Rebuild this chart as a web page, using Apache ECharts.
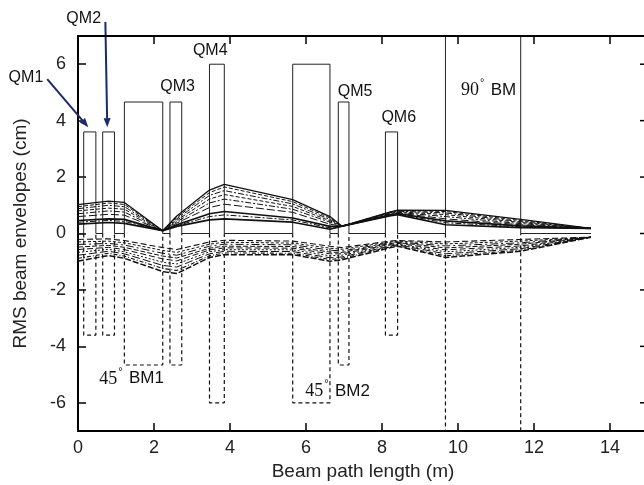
<!DOCTYPE html>
<html>
<head>
<meta charset="utf-8">
<script src="https://cdn.jsdelivr.net/npm/echarts@6/dist/echarts.min.js"></script>
<style>
  html, body { margin: 0; padding: 0; background: #fff; }
  #chart { width: 644px; height: 485px; }
</style>
</head>
<body>
<div id="chart"></div>
<script>
// magnets along the beam line (m), half apertures (cm)
var magnetNames = ["QM1", "QM2", "BM1", "QM3", "QM4", "BM2", "QM5", "QM6", "BM3"];
var magnetStart = [0.15, 0.65, 1.22, 2.42, 3.46, 5.65, 6.85, 8.09, 9.67];
var magnetEnd = [0.47, 0.96, 2.23, 2.73, 3.85, 6.63, 7.13, 8.41, 11.65];
var magnetAperture = [3.6, 3.6, 4.66, 4.66, 6.0, 6.0, 4.66, 3.6, 8.0]; // 90 deg BM runs off the plot
var beamlineEnd = 13.5;

// envelope sample positions (m)
var envX = [0, 0.8, 1.22, 2.23, 2.6, 3.46, 3.85, 5.65, 6.63, 6.95, 8.2, 8.41, 9.67, 11.65, 13.5];

// upper (positive) envelopes, cm
var upper1 = [1.02, 1.15, 1.10, 0.10, 0.62, 1.54, 1.74, 1.20, 0.60, 0.26, 0.76, 0.83, 0.82, 0.50, 0.18];
var upper2 = [0.95, 1.08, 1.03, 0.10, 0.57, 1.45, 1.65, 1.13, 0.55, 0.26, 0.75, 0.81, 0.78, 0.46, 0.18];
var upper3 = [0.88, 1.00, 0.95, 0.10, 0.52, 1.35, 1.52, 1.05, 0.50, 0.26, 0.73, 0.79, 0.73, 0.42, 0.18];
var upper4 = [0.80, 0.90, 0.86, 0.10, 0.47, 1.22, 1.38, 0.96, 0.45, 0.26, 0.71, 0.77, 0.67, 0.39, 0.18];
var upper5 = [0.70, 0.80, 0.76, 0.10, 0.42, 1.08, 1.22, 0.86, 0.40, 0.26, 0.69, 0.75, 0.60, 0.35, 0.18];
var upper6 = [0.60, 0.68, 0.65, 0.10, 0.37, 0.92, 1.04, 0.75, 0.33, 0.26, 0.67, 0.73, 0.52, 0.31, 0.18];
var upper7 = [0.46, 0.52, 0.50, 0.10, 0.31, 0.70, 0.78, 0.55, 0.25, 0.26, 0.65, 0.71, 0.45, 0.27, 0.18];
var upper8 = [0.40, 0.46, 0.43, 0.10, 0.28, 0.60, 0.66, 0.48, 0.20, 0.26, 0.63, 0.69, 0.38, 0.24, 0.18];
var upper9 = [0.33, 0.39, 0.36, 0.10, 0.25, 0.48, 0.52, 0.40, 0.15, 0.26, 0.62, 0.67, 0.31, 0.21, 0.18];

// lower (negative) envelopes, cm
var lower1 = [-0.21, -0.19, -0.25, -0.50, -0.57, -0.30, -0.24, -0.27, -0.45, -0.50, -0.27, -0.25, -0.30, -0.21, -0.13];
var lower2 = [-0.30, -0.27, -0.33, -0.60, -0.67, -0.38, -0.31, -0.34, -0.52, -0.56, -0.30, -0.27, -0.37, -0.27, -0.13];
var lower3 = [-0.39, -0.35, -0.41, -0.70, -0.77, -0.45, -0.38, -0.40, -0.59, -0.62, -0.33, -0.30, -0.44, -0.33, -0.13];
var lower4 = [-0.48, -0.42, -0.49, -0.80, -0.87, -0.52, -0.45, -0.46, -0.66, -0.67, -0.36, -0.32, -0.51, -0.38, -0.13];
var lower5 = [-0.57, -0.49, -0.57, -0.90, -0.97, -0.58, -0.51, -0.52, -0.72, -0.72, -0.39, -0.35, -0.58, -0.44, -0.13];
var lower6 = [-0.67, -0.56, -0.65, -1.02, -1.08, -0.65, -0.57, -0.58, -0.79, -0.77, -0.42, -0.38, -0.65, -0.49, -0.13];
var lower7 = [-0.77, -0.63, -0.72, -1.13, -1.19, -0.72, -0.63, -0.64, -0.86, -0.83, -0.45, -0.40, -0.72, -0.54, -0.13];
var lower8 = [-0.88, -0.70, -0.80, -1.24, -1.31, -0.79, -0.69, -0.70, -0.92, -0.88, -0.48, -0.43, -0.79, -0.59, -0.13];
var lower9 = [-0.98, -0.78, -0.88, -1.35, -1.42, -0.85, -0.75, -0.75, -0.98, -0.93, -0.51, -0.45, -0.85, -0.63, -0.13];

var xTicks = [0, 2, 4, 6, 8, 10, 12, 14];
var yTicks = [-6, -4, -2, 0, 2, 4, 6];
var xRange = [0, 15];
var yRange = [-7, 7];

// label anchors in data units
var labelText = ["QM1", "QM2", "QM3", "QM4", "QM5", "QM6"];
var labelX = [-1.37, 0.15, 2.62, 3.48, 7.29, 8.44];
var labelY = [5.54, 7.6, 5.22, 6.47, 5.04, 4.12];
var arrowFrom = [[-0.81, 5.47], [0.72, 7.5]];
var arrowTo = [[0.27, 3.77], [0.77, 3.77]];
var bendText = ["90", "45", "45"];
var bendSuffix = [" BM", " BM1", " BM2"];
var bendX = [10.08, 0.56, 5.98];
var bendY = [5.08, -5.15, -5.58];

var SANS = '"Liberation Sans", Arial, sans-serif';
var SERIF = '"Liberation Serif", "Times New Roman", serif';

var chart = echarts.init(document.getElementById("chart"));

function apertureTop() {
  var pts = [[0, 0]];
  for (var i = 0; i < magnetStart.length; i++) {
    pts.push([magnetStart[i], 0], [magnetStart[i], magnetAperture[i]],
             [magnetEnd[i], magnetAperture[i]], [magnetEnd[i], 0]);
  }
  pts.push([beamlineEnd, 0]);
  return pts;
}

function apertureBottom() {
  var pts = [];
  for (var i = 0; i < magnetStart.length; i++) {
    pts.push([magnetStart[i], 0], [magnetStart[i], -magnetAperture[i]],
             [magnetEnd[i], -magnetAperture[i]], [magnetEnd[i], 0], [magnetEnd[i], "-"]);
  }
  return pts;
}

function pairs(ys) {
  return envX.map(function (x, i) { return [x, ys[i]]; });
}

var uppers = [upper1, upper2, upper3, upper4, upper5, upper6, upper7, upper8, upper9];
var upperStyle = ["solid", "dashed", [6, 2, 2, 2], [4, 2], [6, 2, 2, 2], [8, 3], "solid", [6, 2, 2, 2], "solid"];
var upperWidth = [1.3, 1, 1, 1, 1, 1, 1.7, 1, 1.7];
var lowers = [lower1, lower2, lower3, lower4, lower5, lower6, lower7, lower8, lower9];
var lowerStyle = [[6, 3], [3, 2], [8, 3, 2, 3], [5, 2], [6, 3], [2, 2], [8, 3], [4, 2, 1, 2], [6, 2]];
var lowerWidth = [1.1, 1, 1, 1, 1, 1, 1, 1.1, 1.5];

var series = [];
series.push({
  type: "line", data: apertureTop(), showSymbol: false, silent: true,
  lineStyle: { color: "#222", width: 1 }, z: 2
});
series.push({
  type: "line", data: apertureBottom(), showSymbol: false, silent: true, connectNulls: false,
  lineStyle: { color: "#111", width: 1.2, type: [4, 3] }, z: 2
});
uppers.forEach(function (ys, i) {
  series.push({
    type: "line", data: pairs(ys), showSymbol: false, silent: true,
    lineStyle: { color: "#111", width: upperWidth[i], type: upperStyle[i] }, z: 3
  });
});
lowers.forEach(function (ys, i) {
  series.push({
    type: "line", data: pairs(ys), showSymbol: false, silent: true,
    lineStyle: { color: "#111", width: lowerWidth[i], type: lowerStyle[i] }, z: 3
  });
});

var tickStyle = { color: "#000", width: 1.5 };

chart.setOption({
  animation: false,
  backgroundColor: "#fff",
  grid: { left: 78, right: -4, top: 36, bottom: 54, outerBoundsMode: "none" },
  xAxis: {
    type: "value", min: xRange[0], max: xRange[1], position: "bottom",
    name: "Beam path length (m)", nameLocation: "middle", nameGap: 30,
    nameTextStyle: { fontFamily: SANS, fontSize: 19, color: "#222" },
    axisLine: { show: true, onZero: false, lineStyle: { color: "#000", width: 2 } },
    axisTick: { inside: true, length: 8, customValues: xTicks, lineStyle: tickStyle },
    axisLabel: { customValues: xTicks, fontFamily: SANS, fontSize: 18, color: "#222", margin: 8 },
    splitLine: { show: false }
  },
  yAxis: {
    type: "value", min: yRange[0], max: yRange[1], position: "left",
    name: "RMS beam envelopes (cm)", nameLocation: "middle", nameGap: 48,
    nameTextStyle: { fontFamily: SANS, fontSize: 19, color: "#222" },
    axisLine: { show: true, onZero: false, lineStyle: { color: "#000", width: 2 } },
    axisTick: { inside: true, length: 8, customValues: yTicks, lineStyle: tickStyle },
    axisLabel: { customValues: yTicks, fontFamily: SANS, fontSize: 18, color: "#222", margin: 12 },
    splitLine: { show: false }
  },
  series: series
});

// annotations: frame (top/right with mirrored ticks), magnet names, arrows, bend labels
function px(p) { return chart.convertToPixel({ xAxisIndex: 0, yAxisIndex: 0 }, p); }

var elements = [];
var x0 = px([xRange[0], 0])[0], x1 = px([xRange[1], 0])[0];
// top edge of the plot, from the y scale (converting the max value directly is unreliable)
var yTop = px([0, yRange[0]])[1] - (px([0, yTicks[0]])[1] - px([0, yTicks[yTicks.length - 1]])[1]) * (yRange[1] - yRange[0]) / (yTicks[yTicks.length - 1] - yTicks[0]);
var yBot = px([0, yRange[0]])[1];
elements.push({
  type: "line", z: 20, silent: true,
  shape: { x1: x0 - 1, y1: yTop, x2: x1, y2: yTop },
  style: { stroke: "#000", lineWidth: 2 }
});
elements.push({
  type: "line", z: 20, silent: true,
  shape: { x1: x1, y1: yTop, x2: x1, y2: yBot },
  style: { stroke: "#000", lineWidth: 2 }
});
xTicks.forEach(function (v) {
  var xp = px([v, 0])[0];
  elements.push({ type: "line", z: 20, silent: true,
    shape: { x1: xp, y1: yTop, x2: xp, y2: yTop + 8 }, style: { stroke: "#000", lineWidth: 1.5 } });
});
yTicks.forEach(function (v) {
  var p = px([xRange[1], v]);
  elements.push({ type: "line", z: 20, silent: true,
    shape: { x1: p[0], y1: p[1], x2: p[0] - 8, y2: p[1] }, style: { stroke: "#000", lineWidth: 1.5 } });
});

labelText.forEach(function (t, i) {
  var p = px([labelX[i], labelY[i]]);
  elements.push({
    type: "text", x: p[0], y: p[1], z: 10,
    style: { text: t, fill: "#111", font: "16px " + SANS, textAlign: "center", textVerticalAlign: "middle" }
  });
});

arrowFrom.forEach(function (a, i) {
  var s = px(a), e = px(arrowTo[i]);
  var dx = e[0] - s[0], dy = e[1] - s[1];
  var len = Math.sqrt(dx * dx + dy * dy);
  var ux = dx / len, uy = dy / len;
  var hl = 9, hw = 3.5;
  var bx = e[0] - ux * hl, by = e[1] - uy * hl;
  elements.push({
    type: "line", z: 10,
    shape: { x1: s[0], y1: s[1], x2: bx, y2: by },
    style: { stroke: "#1c2a6e", lineWidth: 2 }
  });
  elements.push({
    type: "polygon", z: 10,
    shape: { points: [[e[0], e[1]], [bx - uy * hw, by + ux * hw], [bx + uy * hw, by - ux * hw]] },
    style: { fill: "#1c2a6e" }
  });
});

bendText.forEach(function (t, i) {
  var p = px([bendX[i], bendY[i]]);
  elements.push({
    type: "text", x: p[0], y: p[1], z: 10,
    style: { text: t, fill: "#111", font: "18px " + SERIF, textAlign: "left", textVerticalAlign: "middle" }
  });
  elements.push({
    type: "text", x: p[0] + 19, y: p[1] - 7, z: 10,
    style: { text: "\u00b0", fill: "#111", font: "11px " + SANS, textAlign: "left", textVerticalAlign: "middle" }
  });
  elements.push({
    type: "text", x: p[0] + 25, y: p[1], z: 10,
    style: { text: bendSuffix[i], fill: "#111", font: "17px " + SANS, textAlign: "left", textVerticalAlign: "middle" }
  });
});

chart.setOption({ graphic: { elements: elements } });
</script>
</body>
</html>
